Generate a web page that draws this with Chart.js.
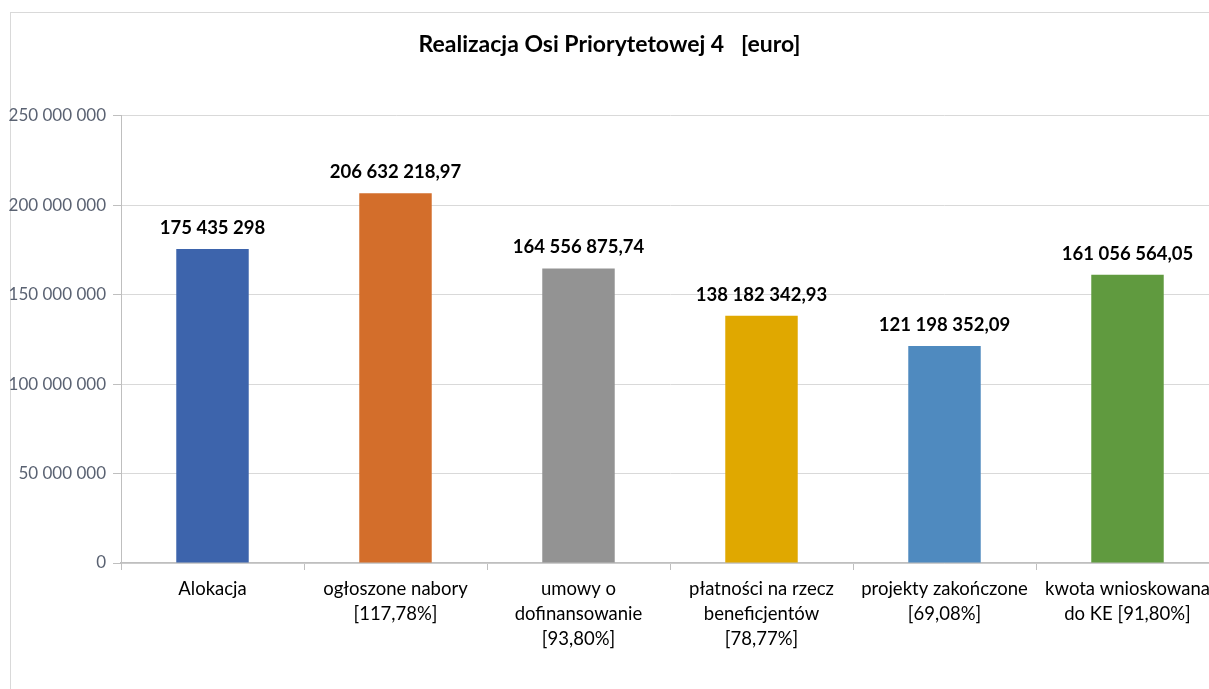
<!DOCTYPE html>
<html>
<head>
<meta charset="utf-8">
<script src="https://cdn.jsdelivr.net/npm/chart.js@4.4.1/dist/chart.umd.min.js"></script>
<style>
  html, body { margin: 0; padding: 0; background: #ffffff; overflow: hidden; width: 1209px; height: 689px; }
  #frame { position: absolute; left: 10px; top: 12px; width: 1300px; height: 800px;
           border-left: 1px solid #d9d9d9; border-top: 1px solid #d9d9d9; }
  #c { position: absolute; left: 0; top: 0; }
</style>
</head>
<body>
<div id="frame"></div>
<canvas id="c" width="1225" height="689"></canvas>
<script>
const chartTitle = 'Realizacja Osi Priorytetowej 4   [euro]';
const categories = [
  ['Alokacja'],
  ['ogłoszone nabory', '[117,78%]'],
  ['umowy o', 'dofinansowanie', '[93,80%]'],
  ['płatności na rzecz', 'beneficjentów', '[78,77%]'],
  ['projekty zakończone', '[69,08%]'],
  ['kwota wnioskowana', 'do KE [91,80%]']
];
const values = [175435298, 206632218.97, 164556875.74, 138182342.93, 121198352.09, 161056564.05];
const barColors = ['#3d64ac', '#d36e2b', '#939393', '#e0a800', '#4f8abf', '#609a3f'];
const yMin = 0, yMax = 250000000, yStep = 50000000;

function groupThousands(intStr) {
  return intStr.replace(/\B(?=(\d{3})+(?!\d))/g, ' ');
}
function fmtValue(v) {
  if (Number.isInteger(v)) return groupThousands(String(v));
  const parts = v.toFixed(2).split('.');
  return groupThousands(parts[0]) + ',' + parts[1];
}

const FONT = 'Lato, "Open Sans", sans-serif';

const valueLabels = {
  id: 'valueLabels',
  afterDatasetsDraw(chart) {
    const ctx = chart.ctx;
    const meta = chart.getDatasetMeta(0);
    ctx.save();
    ctx.font = 'bold 18.5px ' + FONT;
    ctx.fillStyle = '#000000';
    ctx.textAlign = 'center';
    ctx.textBaseline = 'middle';
    meta.data.forEach((bar, i) => {
      ctx.fillText(fmtValue(values[i]), bar.x, bar.y - 21);
    });
    ctx.restore();
  }
};

new Chart(document.getElementById('c'), {
  type: 'bar',
  data: {
    labels: categories,
    datasets: [{
      data: values,
      backgroundColor: barColors,
      borderWidth: 0,
      categoryPercentage: 1.0,
      barPercentage: 0.396
    }]
  },
  options: {
    responsive: false,
    animation: false,
    devicePixelRatio: 1,
    layout: { padding: { left: 0, right: 6, top: 0, bottom: 0 } },
    plugins: {
      legend: { display: false },
      tooltip: { enabled: false },
      title: {
        display: true,
        text: chartTitle,
        color: '#000000',
        font: { family: FONT, size: 23, weight: 'bold', lineHeight: 1.2 },
        padding: { top: 31, bottom: 57 }
      }
    },
    scales: {
      x: {
        grid: { display: true, drawOnChartArea: false, drawTicks: true, tickLength: 7, color: '#bfbfbf', offset: true },
        border: { display: true, color: '#bfbfbf', width: 1.5 },
        ticks: {
          color: '#000000',
          font: { family: FONT, size: 18.5, lineHeight: 1.35 },
          padding: 7,
          maxRotation: 0,
          autoSkip: false
        },
        afterFit(scale) { scale.height = 126; }
      },
      y: {
        min: yMin,
        max: yMax,
        grid: { color: '#d9d9d9', lineWidth: 1, drawTicks: true, tickLength: 8, tickColor: '#bfbfbf' },
        border: { display: true, color: '#bfbfbf', width: 1 },
        ticks: {
          stepSize: yStep,
          color: '#5a6272',
          font: { family: FONT, size: 17 },
          padding: 7,
          callback: (v) => groupThousands(String(v))
        },
        afterFit(scale) { scale.width = 121; }
      }
    }
  },
  plugins: [valueLabels]
});
</script>
</body>
</html>
